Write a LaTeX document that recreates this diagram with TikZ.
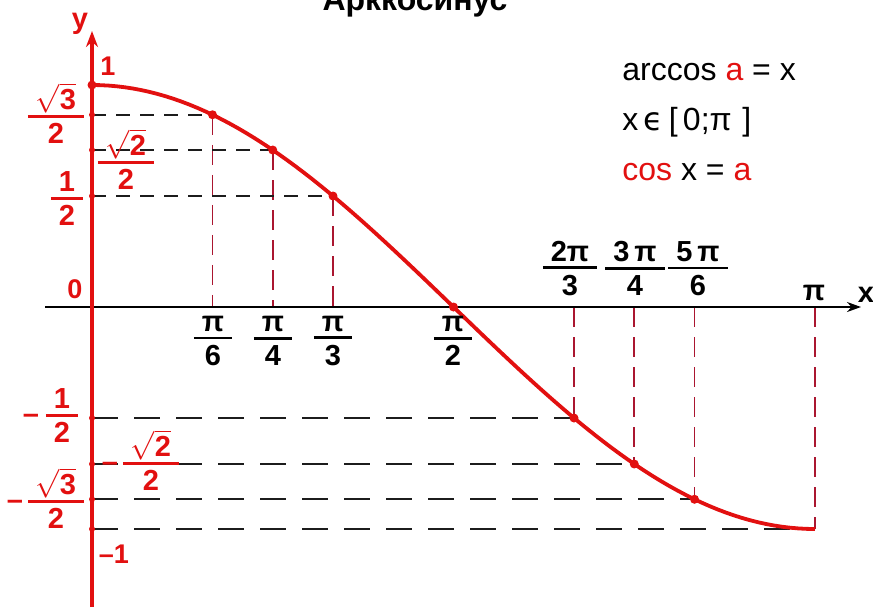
\documentclass[tikz,border=0pt]{standalone}
\usepackage{amsmath}
\usepackage{fontspec}
\setmainfont{Liberation Sans}
\newfontfamily\symbfont{DejaVu Sans}
\usetikzlibrary{arrows.meta}
\definecolor{arcred}{RGB}{226,16,16}
\definecolor{arcdark}{RGB}{170,22,48}
\definecolor{arcgrey}{RGB}{28,28,28}
% stacked fraction with a thick bar; the box ends at the baseline of the denominator
\newcommand{\fr}[2]{{\setlength{\arrayrulewidth}{1.4pt}\renewcommand{\arraystretch}{0}%
  \begin{tabular}{@{\hskip4pt}c@{\hskip4pt}}\rule[-2.5pt]{0pt}{2.5pt}#1\\\hline\rule{0pt}{13pt}#2\end{tabular}}}

\begin{document}
\begin{tikzpicture}[x=0.5pt, y=-0.5pt,
    axisx/.style={draw=black, line width=1pt, -{Stealth[length=7pt,width=5pt]}},
    axisy/.style={draw=arcred, line width=1.6pt, -{Stealth[length=8pt,width=6pt]}},
    curve/.style={draw=arcred, line width=1.9pt},
    hdash/.style={draw=arcgrey, line width=0.8pt, dash pattern=on 7pt off 5pt},
    hdashlong/.style={draw=arcgrey, line width=0.8pt, dash pattern=on 13pt off 8pt},
    vdash/.style={draw=arcdark, line width=0.8pt, dash pattern=on 10pt off 5pt},
    dot/.style={circle, fill=arcred, inner sep=0pt, minimum size=4.5pt},
    ydot/.style={circle, fill=arcred, inner sep=0pt, minimum size=3pt},
    lbl/.style={font=\fontsize{14.5}{17}\selectfont\bfseries, inner sep=0pt, anchor=base},
    frac/.style={lbl, anchor=south},
    ylbl/.style={lbl, text=arcred},
    yfrac/.style={frac, text=arcred},
    formula/.style={font=\fontsize{16}{19}\selectfont, inner sep=0pt, anchor=base west}
  ]
  \useasboundingbox (0,0) rectangle (873,607);

  % points of the curve, their feet on the axes
  \foreach \a/\n in {0/0,30/1,45/2,60/3,90/4,120/5,135/6,150/7,180/8} {
    \coordinate (p\n) at ({92+4.016667*\a},{307-222*cos(\a)});
    \coordinate (t\n) at ({92+4.016667*\a},307);
    \coordinate (l\n) at (92,{307-222*cos(\a)});
  }

  % guide lines
  \foreach \n in {1,2,3} {
    \draw[hdash] (l\n) -- (p\n);
    \draw[vdash] (p\n) -- (t\n);
  }
  \foreach \n in {5,6,7,8} {
    \draw[hdashlong] (l\n) -- (p\n);
    \draw[vdash] (t\n) -- (p\n);
  }

  % axes
  \coordinate (xl) at (45,307);
  \coordinate (xr) at (861,307);
  \coordinate (yb) at (92,607);
  \coordinate (yt) at (92,31);
  \draw[axisx] (xl) -- (xr);
  \draw[axisy] (yb) -- (yt);

  % y = cos x
  \draw[curve] plot[domain=0:180, samples=90] ({92+4.016667*\x},{307-222*cos(\x)});

  \foreach \n in {0,1,2,3,4,5,6,7}
    \node[dot] (d\n) at (p\n) {};
  \foreach \n in {1,2,3,5,6,7,8}
    \node[ydot] (e\n) at (l\n) {};

  % axis names and marks
  \node[ylbl] (ny) at (80,28) {y};
  \node[lbl] (nx) at (866,302) {x};
  \node[ylbl, font=\fontsize{13.5}{15}\selectfont\bfseries] (one) at (108,75) {1};
  \node[ylbl, font=\fontsize{13.5}{15}\selectfont\bfseries] (zero) at (75,298) {0};
  \node[ylbl, font=\fontsize{13.5}{15}\selectfont\bfseries] (mone) at (114,563) {–1};

  % values of cos
  \node[yfrac] (c1) at (56,144) {\fr{$\sqrt{\text{3}}$}{2}};
  \node[yfrac] (c2) at (126,190) {\fr{$\sqrt{\text{2}}$}{2}};
  \node[yfrac] (c3) at (67,226) {\fr{1}{2}};
  \node[yfrac] (c5) at (62,443) {\fr{1}{2}};
  \node[yfrac] (c6) at (151,491) {\fr{$\sqrt{\text{2}}$}{2}};
  \node[yfrac] (c7) at (56,529) {\fr{$\sqrt{\text{3}}$}{2}};
  \node[ylbl] (m5) at (31,423) {–};
  \node[ylbl] (m6) at (110,471) {–};
  \node[ylbl] (m7) at (15,509) {–};

  % arguments
  \node[frac] (a1) at (213,366) {\fr{π}{6}};
  \node[frac] (a2) at (273,366) {\fr{π}{4}};
  \node[frac] (a3) at (333,366) {\fr{π}{3}};
  \node[frac] (a4) at (453,366) {\fr{π}{2}};
  \node[frac] (a5) at (570,296) {\fr{2π}{3}};
  \node[frac] (a6) at (635,296) {\fr{3\,π}{4}};
  \node[frac] (a7) at (698,296) {\fr{5\,π}{6}};
  \node[lbl] (a8) at (814,300) {π};

  % title and definition
  \node[lbl, font=\fontsize{16}{19}\selectfont\bfseries] (title) at (415,10) {Арккосинус};
  \node[formula] (f1) at (622,80) {arccos \textcolor{arcred}{a} = x};
  \node[formula] (f2) at (622,130) {x\,{\symbfont ϵ}\,[\,0;π\,\,]};
  \node[formula] (f3) at (622,180) {\textcolor{arcred}{cos} x = \textcolor{arcred}{a}};
\end{tikzpicture}
\end{document}
